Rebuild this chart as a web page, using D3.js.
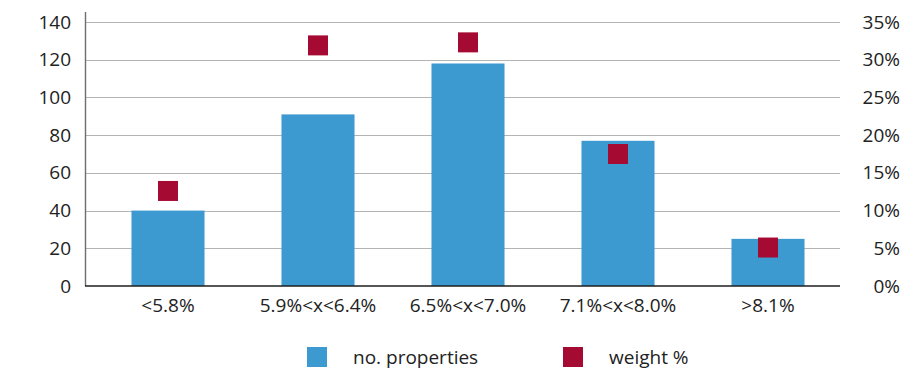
<!DOCTYPE html>
<html>
<head>
<meta charset="utf-8">
<script src="https://cdn.jsdelivr.net/npm/d3@7"></script>
<style>
  html, body { margin: 0; padding: 0; background: #fff; }
  svg { display: block; }
  text { font-family: "Open Sans", "Noto Sans", sans-serif; fill: #222; }
</style>
</head>
<body>
<svg id="chart" width="913" height="369"></svg>
<script>
// Yield buckets
const categories = ["<5.8%", "5.9%<x<6.4%", "6.5%<x<7.0%", "7.1%<x<8.0%", ">8.1%"];
// Number of properties per bucket (left axis)
const propertyCounts = [40, 91, 118, 77, 25];
// Share of portfolio weight per bucket, in % (right axis)
const weightPct = [12.6, 31.9, 32.3, 17.5, 5.1];
// Axis ticks
const countTicks = [0, 20, 40, 60, 80, 100, 120, 140];
const pctTicks = [0, 5, 10, 15, 20, 25, 30, 35];
// Legend entries
const legendLabels = ["no. properties", "weight %"];

const blue = "#3d9ad1";
const red = "#a50a33";

const svg = d3.select("#chart");
const plot = { left: 85, right: 840, top: 22, bottom: 286 };

const x = d3.scaleBand()
  .domain(categories)
  .range([93, 843])
  .paddingInner(0.513)
  .paddingOuter(0.2565);

const yLeft = d3.scaleLinear().domain([0, 140]).range([plot.bottom, plot.top]);
const yRight = d3.scaleLinear().domain([0, 35]).range([plot.bottom, plot.top]);

// Horizontal gridlines
svg.append("g")
  .selectAll("line")
  .data(countTicks.filter(d => d > 0))
  .join("line")
  .attr("x1", plot.left)
  .attr("x2", plot.right)
  .attr("y1", d => Math.round(yLeft(d)) + 0.5)
  .attr("y2", d => Math.round(yLeft(d)) + 0.5)
  .attr("stroke", "#b4b4b4")
  .attr("stroke-width", 1.2);

// Bars
svg.append("g")
  .selectAll("rect")
  .data(propertyCounts)
  .join("rect")
  .attr("x", (d, i) => x(categories[i]))
  .attr("width", x.bandwidth())
  .attr("y", d => yLeft(d))
  .attr("height", d => yLeft(0) - yLeft(d))
  .attr("fill", blue);

// Weight markers
const markerSize = 20;
svg.append("g")
  .selectAll("rect")
  .data(weightPct)
  .join("rect")
  .attr("x", (d, i) => x(categories[i]) + x.bandwidth() / 2 - markerSize / 2)
  .attr("y", d => yRight(d) - markerSize / 2)
  .attr("width", markerSize)
  .attr("height", markerSize)
  .attr("fill", red);

// Left axis
const leftAxis = svg.append("g")
  .attr("transform", `translate(${plot.left},0)`)
  .call(d3.axisLeft(yLeft).tickValues(countTicks).tickSize(0).tickPadding(14));
leftAxis.select(".domain").remove();
leftAxis.append("line")
  .attr("x1", 0.5).attr("x2", 0.5)
  .attr("y1", 12).attr("y2", plot.bottom)
  .attr("stroke", "#6e6e6e")
  .attr("stroke-width", 1.4);
leftAxis.selectAll("text")
  .style("font-size", "19px")
  .style("font-family", "'Open Sans', sans-serif")
  .attr("fill", "#222");

// Right axis
const rightAxis = svg.append("g")
  .attr("transform", `translate(900,0)`)
  .call(d3.axisLeft(yRight).tickValues(pctTicks).tickSize(0).tickPadding(0)
    .tickFormat(d => d + "%"));
rightAxis.select(".domain").remove();
rightAxis.selectAll("text")
  .style("font-size", "19px")
  .style("font-family", "'Open Sans', sans-serif")
  .attr("fill", "#222");

// Baseline
svg.append("line")
  .attr("x1", plot.left)
  .attr("x2", plot.right)
  .attr("y1", plot.bottom)
  .attr("y2", plot.bottom)
  .attr("stroke", "#1e1e1e")
  .attr("stroke-width", 1.6);

// Category axis
const bottomAxis = svg.append("g")
  .attr("transform", `translate(0,${plot.bottom})`)
  .call(d3.axisBottom(x).tickSize(0).tickPadding(13));
bottomAxis.select(".domain").remove();
bottomAxis.selectAll("text")
  .style("font-size", "19px")
  .style("font-family", "'Open Sans', sans-serif")
  .attr("fill", "#222");

// Legend
const legend = svg.append("g");
const legendX = [307, 563];
const legendColors = [blue, red];
legendLabels.forEach((label, i) => {
  legend.append("rect")
    .attr("x", legendX[i])
    .attr("y", 347)
    .attr("width", 20)
    .attr("height", 20)
    .attr("fill", legendColors[i]);
  legend.append("text")
    .attr("x", legendX[i] + 46)
    .attr("y", 364)
    .style("font-size", "19px")
    .text(label);
});
</script>
</body>
</html>
